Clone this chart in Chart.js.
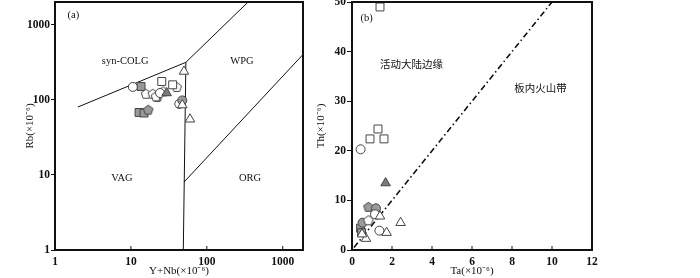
<!DOCTYPE html>
<html>
<head>
<meta charset="utf-8">
<script src="https://cdn.jsdelivr.net/npm/chart.js@4.4.1/dist/chart.umd.min.js"></script>
<style>
body{margin:0;background:#fff;width:700px;height:278px;overflow:hidden;position:relative}
canvas{position:absolute;top:0}
#chartA{left:0}
#chartB{left:305px}
</style>
</head>
<body>
<canvas id="chartA" width="320" height="278"></canvas>
<canvas id="chartB" width="335" height="278"></canvas>
<script>
// (a) Rb vs Y+Nb, log-log
const ticksA = [1, 10, 100, 1000];
const openCircleA = [[10.6,148],[24.2,123],[43.4,88]];
const greySquareA = [[13.6,150],[12.8,67.7],[14.9,66.5]];
const openSquareA = [[25.5,175],[35.5,158]];
const openPentagonA = [[15.8,120],[19.4,120],[21.4,111],[26.7,129],[40.1,148]];
const greyPentagonA = [[16.9,73.6],[22.3,109]];
const darkTriangleA = [[29.6,123]];
const greyCircleA = [[47.5,98]];
const openTriangleA = [[50,238],[47.5,85],[60,55]];
// field boundaries (a)
const colgLine = [[2,80],[53,315]];
const wpgLine = [[53,315],[350,2000]];
const vagLine = [[49,1],[53,315]];
const orgLine = [[50,8],[1850,400]];

// (b) Th vs Ta
const ticksBx = [0, 2, 4, 6, 8, 10, 12];
const ticksBy = [0, 10, 20, 30, 40, 50];
const openSquareB = [[1.4,49],[0.9,22.4],[1.3,24.4],[1.6,22.4]];
const openCircleB = [[0.43,20.3],[1.15,7.2],[1.37,3.9]];
const darkTriangleB = [[1.68,13.5]];
const greyPentagonB = [[0.82,8.7]];
const greyCircleB = [[1.2,8.4],[0.53,5.5]];
const openPentagonB = [[0.82,6]];
const openTriangleB = [[1.4,6.8],[0.7,2.3],[1.73,3.5],[2.43,5.5],[0.5,3.2]];
const greySquareB = [[0.43,4.4],[0.48,3.5]];
const divideLine = [[0.1,0.5],[10,50]];

const serif = 'Liberation Serif';
const cjk = 'Noto Sans CJK SC';

function xy(arr){ return arr.map(p => ({x:p[0], y:p[1]})); }

function pentagon(fill){
  const c = document.createElement('canvas');
  c.width = 12; c.height = 12;
  const g = c.getContext('2d');
  g.beginPath();
  for (let i = 0; i < 5; i++) {
    const a = -Math.PI/2 + i*2*Math.PI/5;
    g.lineTo(6 + 5*Math.cos(a), 6.4 + 5*Math.sin(a));
  }
  g.closePath();
  g.fillStyle = fill; g.fill();
  g.strokeStyle = '#444'; g.lineWidth = 1; g.stroke();
  return c;
}

const styles = {
  openCircle:   {pointStyle:'circle',   pointRadius:4.5, pointBackgroundColor:'#fff'},
  greyCircle:   {pointStyle:'circle',   pointRadius:4.5, pointBackgroundColor:'#9a9a9a'},
  openSquare:   {pointStyle:'rect',     pointRadius:5.6, pointBackgroundColor:'#fff'},
  greySquare:   {pointStyle:'rect',     pointRadius:5.6, pointBackgroundColor:'#9a9a9a'},
  openTriangle: {pointStyle:'triangle', pointRadius:5.5, pointBackgroundColor:'#fff'},
  darkTriangle: {pointStyle:'triangle', pointRadius:5.5, pointBackgroundColor:'#7a7a7a'},
  openPentagon: {pointStyle:pentagon('#fff')},
  greyPentagon: {pointStyle:pentagon('#9a9a9a')}
};

function marker(data, kind){
  return Object.assign({data: xy(data), showLine:false, pointBorderColor:'#444',
    pointBorderWidth:1, order:0}, styles[kind]);
}
function boundary(data, extra){
  return Object.assign({data: xy(data), showLine:true, pointRadius:0,
    borderColor:'#111', borderWidth:1, order:10}, extra || {});
}

// box, inner x ticks and field names
const frame = {
  id: 'frame',
  afterDatasetsDraw(chart, args, opts) {
    const {ctx, chartArea: a, scales} = chart;
    ctx.save();
    ctx.strokeStyle = '#111';
    ctx.lineWidth = 1;
    scales.x.ticks.forEach(t => {
      const px = scales.x.getPixelForValue(t.value);
      if (px <= a.left + 2 || px >= a.right - 2) return;
      ctx.beginPath(); ctx.moveTo(px, a.bottom); ctx.lineTo(px, a.bottom - 4); ctx.stroke();
    });
    ctx.lineWidth = 2;
    ctx.strokeRect(a.left, a.top, a.right - a.left, a.bottom - a.top);
    ctx.fillStyle = '#111';
    ctx.textAlign = 'center';
    ctx.textBaseline = 'middle';
    (opts.notes || []).forEach(n => {
      ctx.font = n.font;
      ctx.fillText(n.text, scales.x.getPixelForValue(n.x), scales.y.getPixelForValue(n.y));
    });
    ctx.restore();
  }
};

// fixed axis boxes, no extra room for edge labels
const fitX = s => { s.height = 28; s.paddingLeft = 0; s.paddingRight = 0; };
const fitY = w => s => { s.width = w; s.paddingTop = 0; s.paddingBottom = 0; };

function axis(type, min, max, ticks, title, fit, extra){
  return Object.assign({
    type, min, max,
    afterBuildTicks: s => { s.ticks = ticks.map(v => ({value:v})); },
    afterFit: fit,
    border: {display:false},
    grid: {drawOnChartArea:false, drawTicks:false},
    ticks: {color:'#111', font:{family:serif, size:11.5, weight:'bold'}, padding:5,
      maxRotation:0, autoSkip:false, callback: v => String(v)},
    title: {display:true, text:title, color:'#111', font:{family:serif, size:11},
      padding:{top:4, bottom:0}}
  }, extra);
}

const base = {
  responsive:false, animation:false, events:[],
  plugins:{legend:{display:false}, tooltip:{enabled:false}}
};

const yTickFont = {color:'#111', font:{family:serif, size:11.5, weight:'bold'}, padding:1,
  maxRotation:0, autoSkip:false, callback: v => String(v)};

new Chart(document.getElementById('chartA'), {
  type:'scatter',
  data:{datasets:[
    marker(openTriangleA,'openTriangle'),
    marker(greyCircleA,'greyCircle'),
    marker(darkTriangleA,'darkTriangle'),
    marker(openCircleA,'openCircle'),
    marker(openSquareA,'openSquare'),
    marker(openPentagonA,'openPentagon'),
    marker(greyPentagonA,'greyPentagon'),
    marker(greySquareA,'greySquare'),
    boundary(colgLine), boundary(wpgLine), boundary(vagLine), boundary(orgLine)
  ]},
  options:Object.assign({}, base, {
    layout:{autoPadding:false, padding:{left:20, right:17, top:2, bottom:0}},
    scales:{
      x: axis('logarithmic', 1, 1850, ticksA, 'Y+Nb(\u00d710\u207b\u2076)', fitX, {}),
      y: axis('logarithmic', 1, 2000, ticksA, 'Rb(\u00d710\u207b\u2076)', fitY(35),
        {grid:{drawOnChartArea:false, drawTicks:true, tickLength:4, color:'#111'}, ticks:yTickFont})
    },
    plugins:Object.assign({}, base.plugins, {frame:{notes:[
      {text:'(a)', x:1.75, y:1350, font:'10.5px ' + serif},
      {text:'syn-COLG', x:8.4, y:321, font:'10.5px ' + serif},
      {text:'WPG', x:291, y:321, font:'10.5px ' + serif},
      {text:'VAG', x:7.6, y:9.1, font:'10.5px ' + serif},
      {text:'ORG', x:371, y:9.1, font:'10.5px ' + serif}
    ]}})
  }),
  plugins:[frame]
});

new Chart(document.getElementById('chartB'), {
  type:'scatter',
  data:{datasets:[
    marker(openTriangleB,'openTriangle'),
    marker(openCircleB,'openCircle'),
    marker(openPentagonB,'openPentagon'),
    marker(greyCircleB,'greyCircle'),
    marker(greyPentagonB,'greyPentagon'),
    marker(darkTriangleB,'darkTriangle'),
    marker(openSquareB,'openSquare'),
    marker(greySquareB,'greySquare'),
    boundary(divideLine, {borderWidth:1.6, borderDash:[6,3,1.5,3]})
  ]},
  options:Object.assign({}, base, {
    layout:{autoPadding:false, padding:{left:6, right:48, top:2, bottom:0}},
    scales:{
      x: axis('linear', 0, 12, ticksBx, 'Ta(\u00d710\u207b\u2076)', fitX, {}),
      y: axis('linear', 0, 50, ticksBy, 'Th(\u00d710\u207b\u2076)', fitY(41),
        {grid:{drawOnChartArea:false, drawTicks:true, tickLength:5, color:'#111'}, ticks:yTickFont})
    },
    plugins:Object.assign({}, base.plugins, {frame:{notes:[
      {text:'(b)', x:0.73, y:46.8, font:'10.5px ' + serif},
      {text:'\u6d3b\u52a8\u5927\u9646\u8fb9\u7f18', x:2.98, y:37.5, font:'10.5px "' + cjk + '"'},
      {text:'\u677f\u5185\u706b\u5c71\u5e26', x:9.43, y:32.7, font:'10.5px "' + cjk + '"'}
    ]}})
  }),
  plugins:[frame]
});
</script>
</body>
</html>
